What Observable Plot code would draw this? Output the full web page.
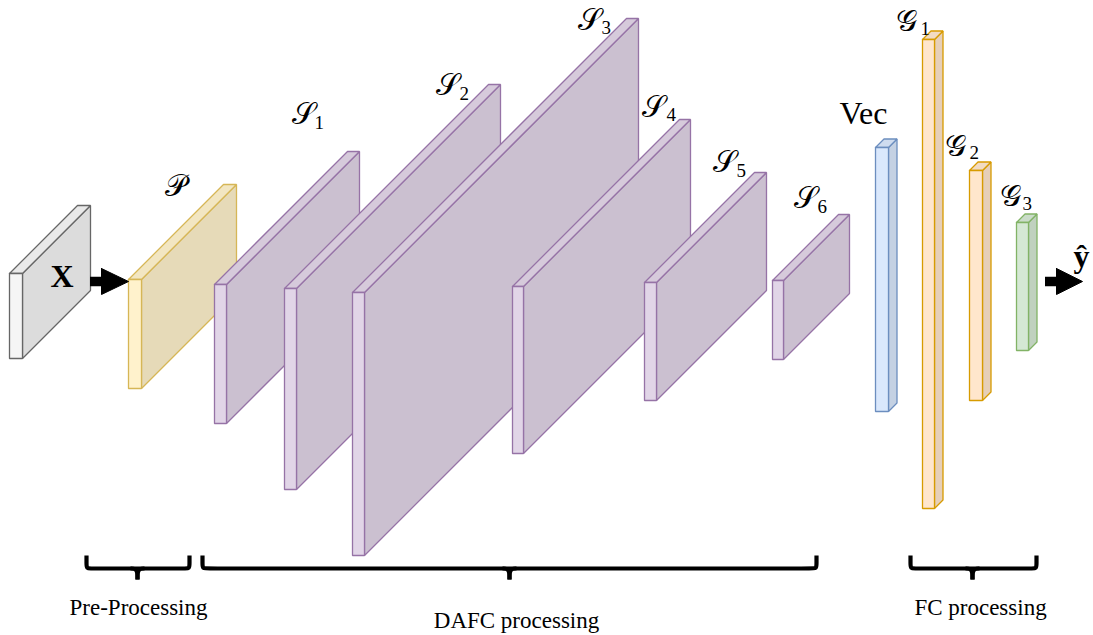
<!DOCTYPE html>
<html>
<head>
<meta charset="utf-8">
<script src="https://cdn.jsdelivr.net/npm/d3@7"></script>
<script src="https://cdn.jsdelivr.net/npm/@observablehq/plot@0.6"></script>
<style>
html, body { margin: 0; padding: 0; background: #ffffff; }
#chart svg { display: block; }
g[aria-label="section labels"] text { letter-spacing: 0.7px; }
</style>
</head>
<body>
<div id="chart"></div>
<script>
// ---- Blocks of the network (front face x-range, top/bottom, depth) ----
const boxNames  = ["X", "P", "S1", "S2", "S3", "S4", "S5", "S6", "Vec", "G1", "G2", "G3"];
const boxX0     = [9, 128, 214, 284, 352, 512, 644, 772, 875, 922, 969, 1016];
const boxX1     = [22, 141, 226, 296, 364, 523, 656, 783, 888, 934, 982, 1028];
const boxTop    = [273, 279, 284, 288, 292, 286, 282, 280, 147, 39, 170, 222];
const boxBottom = [358, 388, 423, 489, 555, 453, 400, 359, 411, 508, 400, 350];
const boxDepth  = [68, 95, 133, 204, 274, 167, 110, 66, 8.5, 8.5, 8.5, 8.5];
const boxFront  = ["#f5f5f5", "#fff2cc", "#e1d5e7", "#e1d5e7", "#e1d5e7", "#e1d5e7", "#e1d5e7", "#e1d5e7", "#dae8fc", "#ffe6cc", "#ffe6cc", "#d5e8d4"];
const boxSide   = ["#dcdcdc", "#e6dab8", "#cbc0d0", "#cbc0d0", "#cbc0d0", "#cbc0d0", "#cbc0d0", "#cbc0d0", "#c4d1e3", "#e6cfb8", "#e6cfb8", "#c0d1bf"];
const boxLid    = ["#e9e9e9", "#f2e6c2", "#d6cadb", "#d6cadb", "#d6cadb", "#d6cadb", "#d6cadb", "#d6cadb", "#cfdcef", "#f2dbc2", "#f2dbc2", "#cadcc9"];
const boxStroke = ["#666666", "#d6b656", "#9673a6", "#9673a6", "#9673a6", "#9673a6", "#9673a6", "#9673a6", "#6c8ebf", "#d79b00", "#d79b00", "#82b366"];

// ---- Block labels (script letter + subscript) ----
const labelMain   = ["𝒫", "𝒮", "𝒮", "𝒮", "𝒮", "𝒮", "𝒮", "𝒢", "𝒢", "𝒢"];
const labelSub    = ["", "1", "2", "3", "4", "5", "6", "1", "2", "3"];
const labelX      = [164, 291, 435, 577, 641, 712, 793, 895, 944, 999];
const labelY      = [195, 123, 94, 29, 116, 171, 207, 30, 155, 205];
const labelSubX   = [0, 314, 459, 601, 666, 736, 817, 920, 969, 1022];
const labelSubY   = [0, 128, 99, 33, 120, 176, 212, 34, 158, 209];

// ---- Plain labels ----
const plainText   = ["X", "Vec", "ŷ"];
const plainX      = [50, 839, 1073];
const plainY      = [286, 123, 266];
const plainBold   = [true, false, true];

// ---- Arrows ----
const arrowStart  = [90, 1045];
const arrowBase   = [101, 1056];
const arrowTip    = [128, 1082];
const arrowY      = [281, 281];

// ---- Braces and section names ----
const braceLeft   = [86, 202, 910];
const braceRight  = [189, 816, 1036];
const braceMid    = [137, 509, 972];
const braceTopY   = 555;
const braceLineY  = 568;
const braceTipY   = 579;
const sectionText = ["Pre-Processing", "DAFC processing", "FC processing"];
const sectionX    = [138, 516, 980];
const sectionY    = [614, 627, 614];

// ---- Build face polygons ----
const faces = [];
boxNames.forEach((name, i) => {
  const x0 = boxX0[i], x1 = boxX1[i], t = boxTop[i], b = boxBottom[i], d = boxDepth[i];
  const side  = [[x1, t], [x1 + d, t - d], [x1 + d, b - d], [x1, b], [x1, t]];
  const lid   = [[x0, t], [x0 + d, t - d], [x1 + d, t - d], [x1, t], [x0, t]];
  const front = [[x0, t], [x1, t], [x1, b], [x0, b], [x0, t]];
  [["side", side, boxSide[i]], ["lid", lid, boxLid[i]], ["front", front, boxFront[i]]].forEach(([k, pts, fill]) => {
    pts.forEach(([x, y]) => faces.push({id: name + "-" + k, x, y, fill, stroke: boxStroke[i]}));
  });
});

// arrow heads
const heads = [];
arrowTip.forEach((tip, i) => {
  const b = arrowBase[i], y = arrowY[i];
  [[b, y - 13], [tip, y], [b, y + 13], [b, y - 13]].forEach(([x, yy]) => heads.push({id: "h" + i, x, y: yy}));
});
const shafts = arrowStart.map((s, i) => ({x1: s, x2: arrowBase[i] + 1, y: arrowY[i]}));

// braces
const braceLines = [];
braceLeft.forEach((L, i) => {
  const R = braceRight[i], M = braceMid[i];
  const T = braceTopY, Y = braceLineY, B = braceTipY;
  [[L, T], [L, Y - 5], [L, Y], [L + 5, Y], [R - 5, Y], [R, Y], [R, Y - 5], [R, T]]
    .forEach(([x, y]) => braceLines.push({id: "b" + i, x, y}));
  [[M - 7, Y], [M, Y], [M, B]].forEach(([x, y]) => braceLines.push({id: "bl" + i, x, y}));
  [[M + 7, Y], [M, Y], [M, B]].forEach(([x, y]) => braceLines.push({id: "br" + i, x, y}));
});

const mainLabels = labelMain.map((t, i) => ({t, x: labelX[i], y: labelY[i]}));
const subLabels = labelSub.map((t, i) => ({t, x: labelSubX[i], y: labelSubY[i]})).filter(d => d.t);
const plains = plainText.map((t, i) => ({t, x: plainX[i], y: plainY[i], bold: plainBold[i]}));
const sections = sectionText.map((t, i) => ({t, x: sectionX[i], y: sectionY[i]}));

const serif = "'Liberation Serif', 'DejaVu Serif', serif";
const mathFont = "'DejaVu Serif', 'DejaVu Sans', 'Noto Sans', serif";

const chart = Plot.plot({
  width: 1093,
  height: 635,
  margin: 0,
  x: {domain: [0, 1093], axis: null},
  y: {domain: [0, 635], reverse: true, axis: null},
  color: {type: "identity"},
  marks: [
    Plot.line(faces, {x: "x", y: "y", z: "id", fill: "fill", stroke: "stroke", strokeWidth: 1.3, strokeLinejoin: "miter"}),
    Plot.ruleY(shafts, {y: "y", x1: "x1", x2: "x2", stroke: "#000", strokeWidth: 9.5}),
    Plot.line(heads, {x: "x", y: "y", z: "id", fill: "#000", stroke: "#000", strokeWidth: 1}),
    Plot.line(braceLines, {x: "x", y: "y", z: "id", curve: "basis", stroke: "#000", strokeWidth: 4.2, strokeLinecap: "butt"}),
    Plot.text(mainLabels, {x: "x", y: "y", text: "t", textAnchor: "start", lineAnchor: "bottom", fontSize: 30, fontFamily: mathFont, fill: "#000"}),
    Plot.text(subLabels, {x: "x", y: "y", text: "t", textAnchor: "start", lineAnchor: "bottom", fontSize: 19, fontFamily: serif, fill: "#000"}),
    Plot.text(plains.filter(d => d.bold), {x: "x", y: "y", text: "t", textAnchor: "start", lineAnchor: "bottom", fontSize: 32, fontWeight: "bold", fontFamily: serif, fill: "#000"}),
    Plot.text(plains.filter(d => !d.bold), {x: "x", y: "y", text: "t", textAnchor: "start", lineAnchor: "bottom", fontSize: 32, fontFamily: serif, fill: "#000"}),
    Plot.text(sections, {x: "x", y: "y", text: "t", textAnchor: "middle", lineAnchor: "bottom", fontSize: 23, fontFamily: serif, fill: "#000", ariaLabel: "section labels"})
  ]
});
document.getElementById("chart").appendChild(chart);
</script>
</body>
</html>
